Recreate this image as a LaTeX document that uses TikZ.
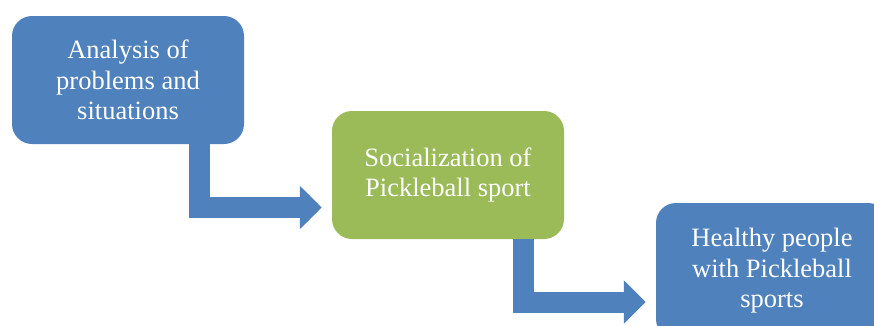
\documentclass[tikz,border=0pt]{standalone}
\usepackage{fontspec}
\setmainfont{Liberation Serif}
\usetikzlibrary{arrows.meta}
\definecolor{stepblue}{RGB}{79,129,189}
\definecolor{stepgreen}{RGB}{155,187,89}
\begin{document}
\begin{tikzpicture}[x=1pt,y=1pt,
  stagebox/.style={rounded corners=20pt,minimum width=232pt,minimum height=128pt,inner sep=0pt,
    align=center,text=white,font=\fontsize{26.5}{30.5}\selectfont},
  flowarrow/.style={stepblue,line width=21pt,line join=miter,shorten >=10pt,
    -{Triangle[length=22pt,width=42pt]}}]
\useasboundingbox (0,0) rectangle (874,325);

\node[stagebox,fill=stepblue] (s1) at (128,245) {Analysis of\\problems and\\situations};
\node[stagebox,fill=stepgreen] (s2) at (448,150) {Socialization of\\Pickleball sport};
\node[stagebox,fill=stepblue,minimum height=136pt] (s3) at (772,54) {Healthy people\\with Pickleball\\sports};

\draw[flowarrow] ([xshift=71.5pt]s1.south) |- ([yshift=-32.5pt]s2.west);
\draw[flowarrow] ([xshift=75.5pt]s2.south) |- ([yshift=-31pt]s3.west);

\end{tikzpicture}
\end{document}
